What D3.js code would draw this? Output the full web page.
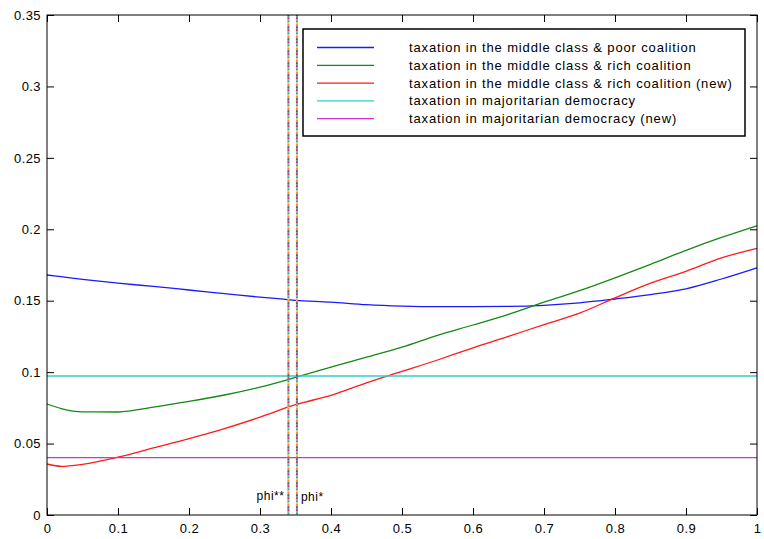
<!DOCTYPE html>
<html lang="en">
<head>
<meta charset="UTF-8">
<title>Taxation by coalition</title>
<script src="https://d3js.org/d3.v7.min.js"></script>
<style>
    body { margin: 0; background: #fff; }
    svg { font-family: Arial, "Liberation Sans", sans-serif; }
</style>
</head>
<body>
<div id="chart"></div>
<script>
    // x values (phi) and curves
    const phi = [0, 0.02, 0.05, 0.1, 0.15, 0.2, 0.25, 0.3, 0.35, 0.4, 0.45, 0.5,
                 0.55, 0.6, 0.65, 0.7, 0.75, 0.8, 0.85, 0.9, 0.95, 1];
    const poorCoalition = [0.168, 0.1668, 0.165, 0.1623, 0.160, 0.1575, 0.155, 0.1525, 0.1503, 0.149, 0.1472, 0.1462,
                           0.1458, 0.1458, 0.146, 0.1468, 0.1485, 0.1512, 0.1543, 0.1583, 0.1652, 0.173];
    const richCoalition = [0.0777, 0.0745, 0.0722, 0.0721, 0.0755, 0.0795, 0.084, 0.0895, 0.0963, 0.1035, 0.1105, 0.1175,
                           0.1258, 0.133, 0.1405, 0.149, 0.157, 0.166, 0.1755, 0.1853, 0.1943, 0.2025];
    const richCoalitionNew = [0.0357, 0.0341, 0.0355, 0.0405, 0.047, 0.0535, 0.0605, 0.0685, 0.0772, 0.0838, 0.0925, 0.1005,
                              0.1085, 0.117, 0.125, 0.1333, 0.1413, 0.152, 0.1623, 0.1706, 0.18, 0.1867];
    const majoritarian = 0.0973;
    const majoritarianNew = 0.0401;
    const phiStars = [{ x: 0.340, label: 'phi**' }, { x: 0.352, label: 'phi*' }];

    const xTicks = [0, 0.1, 0.2, 0.3, 0.4, 0.5, 0.6, 0.7, 0.8, 0.9, 1];
    const yTicks = [0, 0.05, 0.1, 0.15, 0.2, 0.25, 0.3, 0.35];

    const legendLabels = [
        'taxation in the middle class & poor coalition',
        'taxation in the middle class & rich coalition',
        'taxation in the middle class & rich coalition (new)',
        'taxation in majoritarian democracy',
        'taxation in majoritarian democracy (new)'
    ];
    const colors = ['#1a1aff', '#138a13', '#ff1a1a', '#33cccc', '#cc33cc'];

    const W = 764, H = 539;
    const margin = { top: 15, right: 7, bottom: 24, left: 47 };
    const width = W - margin.left - margin.right;
    const height = H - margin.top - margin.bottom;

    const x = d3.scaleLinear().domain([0, 1]).range([0, width]);
    const y = d3.scaleLinear().domain([0, 0.35]).range([height, 0]);

    const svg = d3.select('#chart').append('svg')
        .attr('width', W).attr('height', H);
    const g = svg.append('g')
        .attr('transform', `translate(${margin.left},${margin.top})`);

    // Axes, ticks pointing inward on all four sides
    const fmt = d => d === 0 ? '0' : String(+d.toFixed(2));
    const axes = [
        g.append('g').attr('transform', `translate(0,${height})`)
            .call(d3.axisBottom(x).tickValues(xTicks).tickFormat(fmt).tickSizeInner(-7).tickSizeOuter(0).tickPadding(9)),
        g.append('g')
            .call(d3.axisTop(x).tickValues(xTicks).tickFormat('').tickSizeInner(-7).tickSizeOuter(0)),
        g.append('g')
            .call(d3.axisLeft(y).tickValues(yTicks).tickFormat(fmt).tickSizeInner(-7).tickSizeOuter(0).tickPadding(6)),
        g.append('g').attr('transform', `translate(${width},0)`)
            .call(d3.axisRight(y).tickValues(yTicks).tickFormat('').tickSizeInner(-7).tickSizeOuter(0))
    ];
    axes.forEach(a => {
        a.select('.domain').remove();
        a.selectAll('text').attr('font-size', 13).attr('fill', '#000')
            .attr('letter-spacing', 0.4)
            .attr('font-family', 'Arial, "Liberation Sans", sans-serif');
        a.selectAll('line').attr('stroke', '#000');
    });

    const line = d3.line().x((d, i) => x(phi[i])).y(d => y(d)).curve(d3.curveMonotoneX);
    [poorCoalition, richCoalition, richCoalitionNew].forEach((s, k) => {
        g.append('path').datum(s)
            .attr('d', line)
            .attr('fill', 'none')
            .attr('stroke', colors[k])
            .attr('stroke-width', 1.3);
    });
    [majoritarian, majoritarianNew].forEach((v, k) => {
        g.append('line')
            .attr('x1', x(0)).attr('x2', x(1))
            .attr('y1', y(v)).attr('y2', y(v))
            .attr('stroke', colors[3 + k])
            .attr('stroke-width', 1.3);
    });

    // Vertical phi lines: overlapping dotted lines of many colours
    const dotColors = ['#3355ff', '#22aa55', '#ff2255', '#33cccc', '#dd44dd', '#dddd22', '#ff8844', '#777777'];
    phiStars.forEach(p => {
        dotColors.forEach((c, i) => {
            g.append('line')
                .attr('x1', x(p.x)).attr('x2', x(p.x))
                .attr('y1', 0).attr('y2', height)
                .attr('stroke', c)
                .attr('stroke-width', 2)
                .attr('stroke-dasharray', `1.5,${1.5 * (dotColors.length - 1)}`)
                .attr('stroke-dashoffset', -1.5 * i);
        });
    });
    g.append('text')
        .attr('x', x(phiStars[0].x) - 4).attr('y', y(0) - 15)
        .attr('text-anchor', 'end').attr('font-size', 12)
        .attr('letter-spacing', 0.5)
        .text(phiStars[0].label);
    g.append('text')
        .attr('x', x(phiStars[1].x) + 4).attr('y', y(0) - 14)
        .attr('font-size', 12)
        .attr('letter-spacing', 0.5)
        .text(phiStars[1].label);

    // Plot frame
    g.append('rect')
        .attr('width', width).attr('height', height)
        .attr('fill', 'none').attr('stroke', '#000').attr('stroke-width', 1);

    // Legend
    const legend = svg.append('g').attr('transform', 'translate(303,29)');
    legend.append('rect')
        .attr('width', 442).attr('height', 107)
        .attr('fill', '#fff').attr('stroke', '#000').attr('stroke-width', 1.5);
    legendLabels.forEach((lab, i) => {
        const ly = 18.5 + i * 17.8;
        legend.append('line')
            .attr('x1', 14).attr('x2', 71)
            .attr('y1', ly).attr('y2', ly)
            .attr('stroke', colors[i]).attr('stroke-width', 1.3);
        legend.append('text')
            .attr('x', 106).attr('y', ly + 4.5)
            .attr('font-size', 13)
            .attr('letter-spacing', 0.85)
            .text(lab);
    });
</script>
</body>
</html>
